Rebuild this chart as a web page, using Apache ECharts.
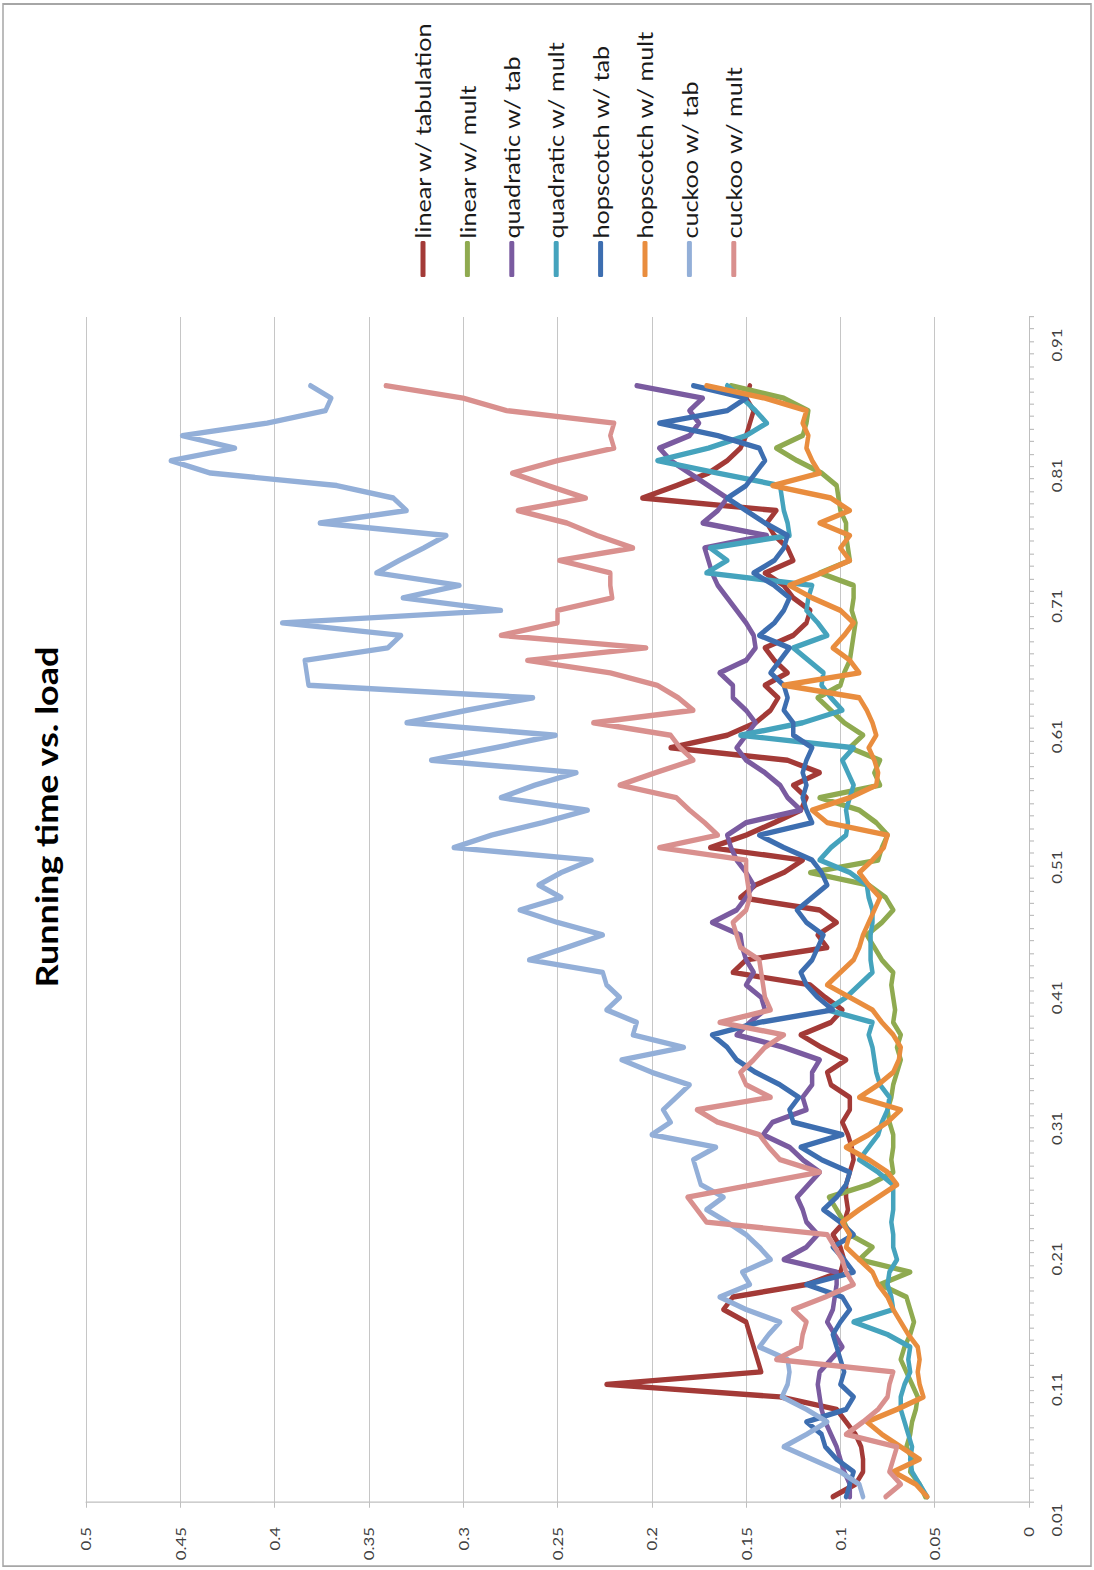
<!DOCTYPE html>
<html>
<head>
<meta charset="utf-8">
<script src="https://cdn.jsdelivr.net/npm/echarts@6/dist/echarts.min.js"></script>
<style>
  html, body { margin: 0; padding: 0; background: #fff; overflow: hidden; }
  /* The chart is laid out landscape, widened by 1.2 along its horizontal
     axis, then turned a quarter turn counter-clockwise to fill the page. */
  #chart {
    position: absolute; left: 0; top: 0;
    width: 1308.33px; height: 1094px;
    transform-origin: 0 0;
    transform: translate(0px, 1570px) rotate(-90deg) scaleX(1.2);
  }
</style>
</head>
<body>
<div id="chart"></div>
<script>
// Load factor categories (the axis runs a little past the last measured load)
const loads = [
  '0.01','0.02','0.03','0.04','0.05','0.06','0.07','0.08','0.09','0.1',
  '0.11','0.12','0.13','0.14','0.15','0.16','0.17','0.18','0.19','0.2',
  '0.21','0.22','0.23','0.24','0.25','0.26','0.27','0.28','0.29','0.3',
  '0.31','0.32','0.33','0.34','0.35','0.36','0.37','0.38','0.39','0.4',
  '0.41','0.42','0.43','0.44','0.45','0.46','0.47','0.48','0.49','0.5',
  '0.51','0.52','0.53','0.54','0.55','0.56','0.57','0.58','0.59','0.6',
  '0.61','0.62','0.63','0.64','0.65','0.66','0.67','0.68','0.69','0.7',
  '0.71','0.72','0.73','0.74','0.75','0.76','0.77','0.78','0.79','0.8',
  '0.81','0.82','0.83','0.84','0.85','0.86','0.87','0.88','0.89','0.9',
  '0.91','0.92','0.93','0.94','0.95'
];
// Loads printed under the axis, one every tenth
const loadTickLabels = loads.slice(0, 91);

// Running times per load, loads 0.01 .. 0.90
const linearTab = [
  0.104,0.092,0.088,0.088,0.089,0.092,0.097,0.102,0.132,0.224,
  0.142,0.144,0.146,0.148,0.150,0.162,0.157,0.118,0.100,0.098,
  0.100,0.104,0.098,0.096,0.097,0.097,0.095,0.093,0.094,0.096,
  0.099,0.095,0.095,0.105,0.107,0.097,0.110,0.121,0.105,0.099,
  0.108,0.116,0.157,0.150,0.107,0.112,0.102,0.111,0.153,0.145,
  0.130,0.120,0.169,0.150,0.135,0.121,0.118,0.125,0.111,0.128,
  0.190,0.160,0.145,0.137,0.133,0.140,0.128,0.135,0.140,0.125,
  0.118,0.116,0.125,0.130,0.140,0.125,0.128,0.135,0.139,0.134,
  0.205,0.187,0.170,0.160,0.153,0.150,0.148,0.146,0.150,0.148
];
const linearMult = [
  0.055,0.058,0.063,0.062,0.065,0.063,0.062,0.060,0.059,0.062,
  0.065,0.068,0.066,0.063,0.061,0.063,0.065,0.079,0.063,0.090,
  0.083,0.095,0.098,0.102,0.106,0.085,0.072,0.073,0.072,0.072,
  0.074,0.075,0.073,0.072,0.070,0.068,0.070,0.068,0.072,0.071,
  0.072,0.073,0.072,0.078,0.082,0.086,0.078,0.072,0.076,0.085,
  0.116,0.080,0.078,0.075,0.081,0.090,0.111,0.079,0.082,0.079,
  0.095,0.088,0.098,0.105,0.112,0.100,0.098,0.095,0.094,0.093,
  0.092,0.094,0.093,0.093,0.111,0.095,0.096,0.097,0.097,0.100,
  0.101,0.102,0.110,0.123,0.134,0.120,0.118,0.117,0.130,0.158
];
const quadraticTab = [
  0.095,0.095,0.098,0.100,0.102,0.105,0.108,0.110,0.111,0.112,
  0.111,0.105,0.099,0.103,0.107,0.104,0.103,0.102,0.102,0.130,
  0.118,0.112,0.118,0.120,0.123,0.117,0.111,0.120,0.127,0.141,
  0.136,0.118,0.120,0.115,0.115,0.111,0.130,0.155,0.148,0.140,
  0.142,0.150,0.146,0.150,0.152,0.153,0.168,0.155,0.150,0.146,
  0.150,0.155,0.158,0.160,0.150,0.121,0.128,0.132,0.140,0.150,
  0.155,0.150,0.145,0.150,0.157,0.157,0.164,0.150,0.145,0.146,
  0.150,0.155,0.160,0.165,0.168,0.170,0.172,0.139,0.173,0.165,
  0.160,0.170,0.180,0.190,0.196,0.180,0.175,0.180,0.173,0.208
];
const quadraticMult = [
  0.054,0.058,0.062,0.063,0.062,0.064,0.066,0.068,0.068,0.066,
  0.063,0.064,0.063,0.075,0.093,0.072,0.073,0.075,0.074,0.070,
  0.072,0.072,0.073,0.072,0.072,0.072,0.080,0.090,0.085,0.080,
  0.078,0.075,0.074,0.079,0.081,0.082,0.083,0.085,0.083,0.107,
  0.097,0.090,0.083,0.084,0.084,0.084,0.083,0.083,0.085,0.086,
  0.095,0.111,0.105,0.097,0.096,0.097,0.095,0.093,0.096,0.099,
  0.093,0.153,0.120,0.099,0.105,0.110,0.109,0.117,0.125,0.107,
  0.112,0.118,0.117,0.115,0.171,0.160,0.169,0.127,0.128,0.130,
  0.131,0.132,0.165,0.197,0.170,0.150,0.139,0.145,0.152,0.160
];
const hopscotchTab = [
  0.097,0.095,0.093,0.102,0.108,0.110,0.118,0.097,0.093,0.100,
  0.098,0.100,0.102,0.104,0.100,0.095,0.099,0.118,0.093,0.098,
  0.104,0.093,0.100,0.109,0.102,0.097,0.095,0.110,0.121,0.099,
  0.125,0.127,0.122,0.132,0.145,0.155,0.160,0.168,0.143,0.104,
  0.112,0.118,0.121,0.115,0.112,0.109,0.118,0.123,0.115,0.107,
  0.110,0.115,0.130,0.143,0.115,0.118,0.120,0.118,0.120,0.118,
  0.115,0.125,0.125,0.130,0.128,0.130,0.137,0.132,0.127,0.143,
  0.135,0.130,0.127,0.135,0.146,0.135,0.130,0.128,0.140,0.150,
  0.160,0.150,0.145,0.140,0.143,0.165,0.196,0.160,0.150,0.178
];
const hopscotchMult = [
  0.054,0.060,0.072,0.058,0.068,0.078,0.086,0.070,0.056,0.058,
  0.059,0.058,0.059,0.064,0.068,0.072,0.075,0.080,0.083,0.090,
  0.097,0.095,0.099,0.090,0.080,0.070,0.075,0.085,0.097,0.085,
  0.075,0.068,0.090,0.080,0.072,0.069,0.068,0.072,0.078,0.083,
  0.095,0.107,0.100,0.093,0.090,0.088,0.085,0.082,0.079,0.085,
  0.090,0.083,0.077,0.075,0.107,0.115,0.095,0.081,0.080,0.082,
  0.085,0.081,0.083,0.086,0.090,0.130,0.090,0.095,0.104,0.098,
  0.093,0.100,0.115,0.127,0.110,0.095,0.100,0.095,0.111,0.095,
  0.105,0.136,0.111,0.115,0.118,0.117,0.120,0.118,0.140,0.171
];
const cuckooTab = [
  0.088,0.090,0.100,0.115,0.130,0.118,0.107,0.118,0.131,0.128,
  0.127,0.128,0.143,0.138,0.132,0.150,0.164,0.148,0.152,0.137,
  0.143,0.150,0.160,0.171,0.162,0.174,0.176,0.178,0.166,0.200,
  0.190,0.194,0.187,0.180,0.200,0.216,0.183,0.210,0.208,0.224,
  0.217,0.224,0.226,0.265,0.245,0.226,0.250,0.270,0.248,0.260,
  0.248,0.232,0.305,0.285,0.258,0.234,0.280,0.262,0.240,0.317,
  0.283,0.251,0.330,0.298,0.263,0.382,0.383,0.384,0.340,0.333,
  0.396,0.280,0.332,0.302,0.346,0.334,0.321,0.309,0.376,0.330,
  0.337,0.367,0.434,0.455,0.421,0.449,0.404,0.373,0.370,0.381
];
const cuckooMult = [
  0.076,0.068,0.074,0.072,0.070,0.097,0.088,0.080,0.075,0.074,
  0.072,0.134,0.121,0.120,0.118,0.125,0.108,0.093,0.097,0.099,
  0.103,0.107,0.171,0.176,0.181,0.146,0.111,0.132,0.138,0.143,
  0.165,0.176,0.137,0.150,0.153,0.146,0.140,0.130,0.164,0.137,
  0.140,0.141,0.142,0.143,0.153,0.155,0.157,0.150,0.148,0.149,
  0.150,0.150,0.196,0.165,0.172,0.180,0.187,0.217,0.198,0.178,
  0.185,0.190,0.231,0.178,0.186,0.197,0.222,0.266,0.203,0.280,
  0.250,0.250,0.221,0.222,0.222,0.249,0.210,0.229,0.245,0.271,
  0.235,0.255,0.274,0.250,0.220,0.222,0.220,0.277,0.300,0.341
];

const seriesNames = [
  'linear w/ tabulation', 'linear w/ mult',
  'quadratic w/ tab', 'quadratic w/ mult',
  'hopscotch w/ tab', 'hopscotch w/ mult',
  'cuckoo w/ tab', 'cuckoo w/ mult'
];
const seriesValues = [
  linearTab, linearMult, quadraticTab, quadraticMult,
  hopscotchTab, hopscotchMult, cuckooTab, cuckooMult
];
const seriesColors = [
  '#A33A37', '#8FAA50', '#7A5BA0', '#45A3BD',
  '#3D6EB0', '#E98D3E', '#93AFD8', '#D9908E'
];

const FONT = 'Lato, "Open Sans", sans-serif';
const W = 1308.33;

const chart = echarts.init(document.getElementById('chart'), null, {
  renderer: 'svg', width: W, height: 1094
});

chart.setOption({
  backgroundColor: '#ffffff',
  animation: false,
  graphic: [
    {
      type: 'rect',
      shape: { x: 3.3, y: 3, width: 1301.7, height: 1088 },
      style: { fill: 'none', stroke: '#A6A6A6', lineWidth: 1.5 },
      silent: true
    },
    {
      type: 'text',
      x: 627.5, y: 46,
      style: {
        text: 'Running time vs. load',
        fontFamily: FONT, fontSize: 30, fontWeight: 'bold', fill: '#000000',
        align: 'center', verticalAlign: 'middle'
      },
      silent: true
    }
  ],
  legend: {
    orient: 'vertical',
    left: 1072.5,
    top: 407,
    itemWidth: 30,
    itemHeight: 5,
    itemGap: 22.4,
    icon: 'roundRect',
    textStyle: { fontFamily: FONT, fontSize: 21, lineHeight: 22, color: '#1A1A1A', padding: [0, 0, 0, -3] },
    data: seriesNames
  },
  grid: [
    // plot area
    { left: 55.83, right: 264.17, top: 86, bottom: 65, containLabel: false },
    // band that carries the load labels
    { left: 41.67, right: 287.5, top: 86, bottom: 65, containLabel: false }
  ],
  xAxis: [
    {
      type: 'category',
      gridIndex: 0,
      data: loads,
      boundaryGap: true,
      axisLine: { show: true, lineStyle: { color: '#BFBFBF', width: 1 } },
      axisTick: { show: true, interval: 0, length: 5, lineStyle: { color: '#BFBFBF' } },
      axisLabel: { show: false },
      splitLine: { show: false }
    },
    {
      type: 'category',
      gridIndex: 1,
      data: loadTickLabels,
      boundaryGap: false,
      axisLine: { show: false },
      axisTick: { show: false },
      axisLabel: { interval: 9, margin: 21, fontFamily: FONT, fontSize: 14, color: '#404040' },
      splitLine: { show: false }
    }
  ],
  yAxis: [
    {
      type: 'value',
      gridIndex: 0,
      min: 0, max: 0.5, interval: 0.05,
      axisLine: { show: true, lineStyle: { color: '#BFBFBF', width: 1 } },
      axisTick: { show: true, length: 4, lineStyle: { color: '#BFBFBF' } },
      axisLabel: { margin: 20, fontFamily: FONT, fontSize: 14, color: '#404040' },
      splitLine: { show: true, lineStyle: { color: '#C6C6C6', width: 1 } }
    },
    {
      type: 'value',
      gridIndex: 1,
      min: 0, max: 0.5, interval: 0.05,
      show: false
    }
  ],
  series: seriesNames.map((name, k) => ({
    name: name,
    type: 'line',
    xAxisIndex: 0,
    yAxisIndex: 0,
    data: seriesValues[k],
    showSymbol: false,
    symbol: 'none',
    smooth: false,
    color: seriesColors[k],
    lineStyle: { width: 4.5, color: seriesColors[k], cap: 'round', join: 'round' }
  }))
});
</script>
</body>
</html>
